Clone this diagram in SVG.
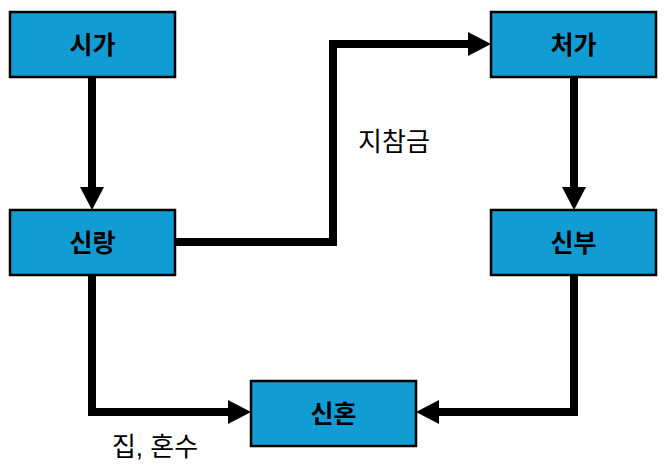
<svg xmlns="http://www.w3.org/2000/svg" width="666" height="473" viewBox="0 0 666 473">
<defs>
<style>
.box{fill:#119dd4;stroke:#000;stroke-width:2.5}
.lbl{font-family:"Liberation Sans","Noto Sans CJK KR",sans-serif;font-size:25px;font-weight:bold;fill:#000;text-anchor:middle;dominant-baseline:central}
.edge{fill:none;stroke:#000;stroke-width:8}
.elbl{font-family:"Liberation Sans","Noto Sans CJK KR",sans-serif;font-size:26px;fill:#000;text-anchor:middle;dominant-baseline:central}
</style>
<marker id="arr" markerUnits="userSpaceOnUse" markerWidth="24" markerHeight="24" refX="1" refY="12" orient="auto">
<path d="M0,0 L23,12 L0,24 Z" fill="#000"/>
</marker>
</defs>
<g id="connectors">
<path class="edge" d="M92,77 V188" marker-end="url(#arr)"/>
<path class="edge" d="M175,242 H333 V44 H469" marker-end="url(#arr)"/>
<path class="edge" d="M574,77 V188" marker-end="url(#arr)"/>
<path class="edge" d="M92,275 V412 H229" marker-end="url(#arr)"/>
<path class="edge" d="M574,275 V412 H438" marker-end="url(#arr)"/>
<text class="elbl" x="394" y="142">지참금</text>
<text class="elbl" x="155" y="447">집, 혼수</text>
</g>
<g id="siga"><rect class="box" x="10" y="12" width="165" height="65"/><text class="lbl" x="92.5" y="44.5">시가</text></g>
<g id="cheoga"><rect class="box" x="491" y="12" width="165" height="65"/><text class="lbl" x="573.5" y="44.5">처가</text></g>
<g id="sinrang"><rect class="box" x="10" y="210" width="165" height="65"/><text class="lbl" x="92.5" y="242.5">신랑</text></g>
<g id="sinbu"><rect class="box" x="491" y="210" width="165" height="65"/><text class="lbl" x="573.5" y="242.5">신부</text></g>
<g id="sinhon"><rect class="box" x="251" y="381" width="165" height="65"/><text class="lbl" x="333.5" y="413.5">신혼</text></g>
</svg>
